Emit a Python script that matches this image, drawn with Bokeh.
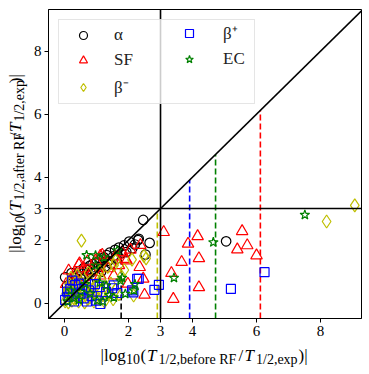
import math
from bokeh.plotting import figure
from bokeh.layouts import column, row
from bokeh.models import Range1d, FixedTicker, Span, Slope, Legend, LegendItem
from bokeh.core.properties import value
from bokeh.embed import file_html
from bokeh.resources import INLINE

# ---------------- data ----------------
alpha_x = [0.02, 0.08, 0.12, 0.18, 0.22, 0.27, 0.33, 0.38, 0.42, 0.47, 0.51, 0.56, 0.61, 0.66, 0.71,
           0.74, 0.79, 0.83, 0.88, 0.92, 0.97, 1.01, 1.06, 1.10, 1.14, 1.19, 1.23, 1.28, 1.32, 1.37,
           1.41, 1.46, 1.52, 1.58, 1.63, 1.70, 1.77, 1.86, 1.93, 2.02, 2.12, 2.20, 2.32, 2.46, 2.53,
           2.66, 2.30, 0.15, 0.35, 0.62, 5.05]
alpha_y = [0.82, 0.55, 0.35, 0.62, 0.95, 0.48, 0.71, 0.88, 0.58, 1.02, 0.77, 0.93, 1.12, 0.84, 1.05,
           0.66, 1.18, 0.97, 1.24, 1.08, 0.86, 1.29, 1.14, 1.36, 0.99, 1.27, 1.45, 1.17, 1.52, 1.34,
           1.60, 1.25, 1.48, 1.69, 1.41, 1.76, 1.58, 1.83, 1.62, 1.95, 1.74, 1.86, 2.04, 2.64, 1.54,
           1.91, 2.00, 0.28, 0.25, 0.45, 1.96]

sf_x = [0.13, 0.19, 0.45, 0.60, 0.60, 0.97, 1.18, 1.12, 1.54, 1.59, 1.80, 1.90, 1.98, 1.94, 2.06,
        2.37, 2.35, 2.46, 2.50, 3.10, 3.40, 3.34, 3.66, 3.86, 4.16, 4.20, 4.20, 5.55, 5.40, 5.71,
        6.00, 0.30, 0.85, 1.35, 0.05, 1.70, 0.72, 1.12, 0.47]
sf_y = [1.03, 0.71, 1.21, 1.10, 0.82, 1.35, 1.53, 0.87, 0.87, 1.48, 1.61, 1.40, 0.61, 1.35, 1.69,
        1.84, 1.14, 0.77, 0.26, 2.25, 0.13, 0.95, 1.30, 1.88, 2.12, 1.42, 0.50, 2.28, 1.70, 1.83,
        1.51, 0.90, 1.00, 1.10, 0.60, 1.20, 1.32, 1.50, 1.26]

bm_x = [0.53, 2.55, 2.48, 2.11, 1.87, 2.16, 1.60, 8.19, 9.07, 1.35, 0.02, 0.05, 0.08, 0.10, 0.12,
        0.15, 0.18, 0.20, 0.23, 0.26, 0.29, 0.32, 0.35, 0.38, 0.41, 0.44, 0.47, 0.50, 0.53, 0.56,
        0.60, 0.63, 0.66, 0.70, 0.73, 0.77, 0.80, 0.84, 0.88, 0.92, 0.95, 1.00, 1.05, 1.10, 1.15,
        1.20, 1.25, 1.30, 1.38, 1.45, 1.52, 1.60, 1.70, 1.78, 0.40, 0.75, 1.10, 0.20, 1.55]
bm_y = [1.98, 1.42, 1.50, 1.38, 1.05, 0.24, 1.35, 2.59, 3.10, 1.15, 0.05, 0.30, 0.15, 0.45, 0.02,
        0.60, 0.22, 0.38, 0.08, 0.52, 0.30, 0.12, 0.42, 0.70, 0.20, 0.05, 0.55, 0.33, 0.15, 0.62,
        0.40, 0.02, 0.25, 0.50, 0.12, 0.35, 0.68, 0.20, 0.45, 0.05, 0.30, 0.55, 0.15, 0.40, 0.75,
        0.25, 0.05, 0.50, 0.30, 0.62, 0.12, 0.42, 0.28, 0.85, 0.88, 0.95, 1.00, 0.80, 1.20]

bp_x = [0.08, 0.24, 0.34, 0.50, 0.13, 0.76, 1.12, 1.54, 2.11, 2.32, 2.27, 2.15, 1.49, 1.10, 2.81,
        2.95, 5.20, 6.25, 0.02, 0.30, 0.45, 0.60, 0.85, 0.95, 1.30, 0.70, 0.18, 1.00, 1.65, 0.55]
bp_y = [0.36, 0.71, 0.57, 0.29, 0.20, 0.40, -0.03, 0.56, 0.40, 0.77, 0.77, 0.34, 0.47, 0.51, 0.42,
        0.58, 0.45, 0.98, 0.10, 0.05, 0.62, 0.15, 0.22, 0.60, 0.35, 0.05, 0.45, 0.08, 0.32, 0.45]

ec_x = [0.97, 1.65, 1.23, 1.10, 1.75, 1.02, 1.54, 1.90, 2.17, 3.42, 4.65, 7.51, 0.69, 0.97, 1.80,
        0.30, 0.50, 0.10, 0.80, 1.30, 0.45, 1.40, 0.20, 0.65, 1.20, 2.20]
ec_y = [1.51, 1.67, 1.45, 0.65, 0.71, 0.08, 0.18, 0.29, 0.40, 0.80, 1.93, 2.80, 1.52, 1.19, 0.80,
        0.15, 0.35, 0.05, 0.30, 0.55, 0.10, 0.25, 0.40, 0.60, 0.05, 0.60]

thr_x = [1.77, 2.90, 3.91, 4.72, 6.12]
thr_colors = ["black", "#bfbf00", "blue", "green", "red"]
ticks = [0, 2, 3, 4, 6, 8]
cut = 3

SERIF = "Liberation Serif"

# ---------------- main plot ----------------
YLAB_W = 28
MAIN_H = 342
FRAME_H = 309
p = figure(width=334, height=MAIN_H, x_range=Range1d(-0.5, 9.28), y_range=Range1d(-0.49, 9.32),
           output_backend="svg", toolbar_location=None,
           min_border_left=20, min_border_right=1, min_border_top=9, min_border_bottom=24)
p.xgrid.visible = False
p.ygrid.visible = False
p.outline_line_color = "black"
p.outline_line_alpha = 1
p.outline_line_width = 1
for ax in (p.xaxis, p.yaxis):
    ax.ticker = FixedTicker(ticks=ticks)
    ax.minor_tick_line_color = None
    ax.major_tick_out = 4
    ax.major_tick_in = 0
    ax.major_tick_line_color = "black"
    ax.axis_line_color = "black"
    ax.major_label_text_font = SERIF
    ax.major_label_text_font_size = "15px"
    ax.major_label_text_color = "black"
p.xaxis.major_label_standoff = 3
p.yaxis.major_label_standoff = 3

p.segment(x0=thr_x, y0=[p.y_range.start] * len(thr_x), x1=thr_x, y1=thr_x,
          line_color=thr_colors, line_width=1.6, line_dash="6 3")

r_a = p.scatter(alpha_x, alpha_y, marker="circle", size=9.5, fill_color=None,
                line_color="black", line_width=1.2)
r_sf = p.scatter(sf_x, sf_y, marker="triangle", size=11.5, fill_color=None,
                 line_color="red", line_width=1.2)
r_bm = p.scatter(bm_x, bm_y, marker="diamond", size=13, fill_color=None,
                 line_color="#bfbf00", line_width=1.2)
r_bp = p.scatter(bp_x, bp_y, marker="square", size=9, fill_color=None,
                 line_color="blue", line_width=1.2)
r_ec = p.scatter(ec_x, ec_y, marker="star", size=10, fill_color=None,
                 line_color="green", line_width=1.2)

p.add_layout(Slope(gradient=1, y_intercept=0, line_color="black", line_width=1.6))
p.add_layout(Span(location=cut, dimension="width", line_color="black", line_width=1.6))
p.add_layout(Span(location=cut, dimension="height", line_color="black", line_width=1.6))

# legend: first column carries the box, second column sits inside it
leg_common = dict(padding=5, spacing=5, glyph_width=38, glyph_height=20,
                  label_text_font=SERIF, label_text_font_size="17px",
                  label_text_color="#222222")
legend1 = Legend(items=[LegendItem(label="α", renderers=[r_a]),
                        LegendItem(label="SF", renderers=[r_sf]),
                        LegendItem(label="β⁻", renderers=[r_bm])],
                 location="top_left", margin=10, label_standoff=12, label_width=135,
                 border_line_color="#cccccc", border_line_width=1,
                 background_fill_alpha=0.8, **leg_common)
legend2 = Legend(items=[LegendItem(label="β⁺", renderers=[r_bp]),
                        LegendItem(label="EC", renderers=[r_ec])],
                 location=(122, FRAME_H - 60), margin=0, label_standoff=15, label_width=20,
                 border_line_color=None, background_fill_alpha=0.0, **leg_common)
p.add_layout(legend1)
p.add_layout(legend2)


def text_panel(w, h):
    f = figure(width=w, height=h, x_range=Range1d(0, w), y_range=Range1d(h, 0),
               output_backend="svg", toolbar_location=None, min_border=0,
               x_axis_location=None, y_axis_location=None)
    f.xgrid.visible = False
    f.ygrid.visible = False
    f.outline_line_color = None
    return f


def put(f, xs, ys, texts, size, style="normal", angle=0.0):
    f.text(x=xs, y=ys, text=texts, angle=angle, text_font=value(SERIF), text_font_size=size,
           text_font_style=style, text_color="black", text_align="left",
           text_baseline="alphabetic")


MAIN, SUB = "17px", "14px"

# x axis label: |log10(T_{1/2,before RF}/T_{1/2,exp})|
xl = text_panel(YLAB_W + 334, 374 - MAIN_H)
mb, sb = 12.5, 16.5
put(xl, [100, 140, 238, 298], [mb] * 4, ["|log", "(", "/", ")|"], MAIN)
put(xl, [146.5, 244], [mb] * 2, ["T", "T"], MAIN, "italic")
put(xl, [125.5, 158, 255.5], [sb] * 3, ["10", "1/2,before RF", "1/2,exp"], SUB)

# y axis label: |log10(T_{1/2,after RF}/T_{1/2,exp})|
yl = text_panel(YLAB_W, MAIN_H)
A = math.pi / 2
put(yl, [15] * 4, [269.3, 229.3, 141.5, 81.5], ["|log", "(", "/", ")|"], MAIN, angle=A)
put(yl, [15] * 2, [222.8, 135.5], ["T", "T"], MAIN, "italic", angle=A)
put(yl, [19] * 3, [243.8, 211.3, 124], ["10", "1/2,after RF", "1/2,exp"], SUB, angle=A)

layout = column(row(yl, p), xl)
open("out.html", "w").write(file_html(layout, INLINE))
